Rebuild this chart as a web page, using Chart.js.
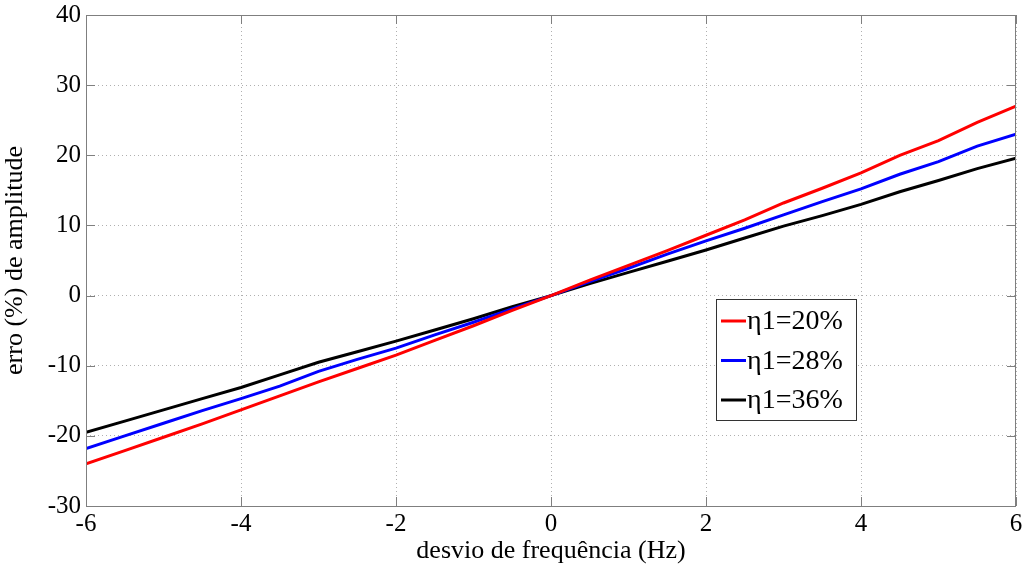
<!DOCTYPE html>
<html><head><meta charset="utf-8">
<script src="https://cdn.jsdelivr.net/npm/chart.js@4/dist/chart.umd.min.js"></script>
<style>html,body{margin:0;padding:0;background:#fff}#wrap{width:1026px;height:571px}</style>
</head><body><div id="wrap"><canvas id="c" width="1026" height="571"></canvas></div>
<script>
const xVals = [-6,-5.5,-5,-4.5,-4,-3.5,-3,-2.5,-2,-1.5,-1,-0.5,0,0.5,1,1.5,2,2.5,3,3.5,4,4.5,5,5.5,6];
const eta20 = [-24.0,-22.1,-20.2,-18.3,-16.3,-14.3,-12.3,-10.4,-8.5,-6.4,-4.3,-2.1,0,2.2,4.3,6.4,8.6,10.8,13.2,15.3,17.5,20.0,22.1,24.7,27.0];
const eta28 = [-21.8,-20.0,-18.2,-16.4,-14.7,-12.9,-10.8,-9.1,-7.5,-5.6,-3.8,-1.9,0,2.0,3.9,5.9,7.8,9.6,11.5,13.4,15.2,17.3,19.1,21.3,23.0];
const eta36 = [-19.5,-17.9,-16.3,-14.7,-13.1,-11.3,-9.5,-8.0,-6.5,-4.9,-3.3,-1.6,0,1.7,3.3,4.9,6.5,8.2,9.9,11.4,13.0,14.8,16.4,18.1,19.6];
const seriesLabels = ['η1=20%','η1=28%','η1=36%'];
const xTitle = 'desvio de frequência (Hz)';
const yTitle = 'erro (%) de amplitude';

const FONT = '"Liberation Serif","Times New Roman",serif';
const toPts = arr => arr.map((v,i)=>({x:xVals[i],y:v}));

const boxPlugin = {
  id:'box',
  afterDraw(chart){
    const {ctx, chartArea:a, scales} = chart;
    ctx.save();
    ctx.strokeStyle = '#7f7f7f'; ctx.lineWidth = 1;
    ctx.strokeRect(a.left+0.5, a.top+0.5, a.right-a.left-1, a.bottom-a.top);
    ctx.beginPath();
    scales.y.ticks.forEach(t=>{ const p=Math.round(scales.y.getPixelForValue(t.value))+0.5;
      ctx.moveTo(a.left,p); ctx.lineTo(a.left+9,p); ctx.moveTo(a.right,p); ctx.lineTo(a.right-9,p);});
    scales.x.ticks.forEach(t=>{ const p=Math.round(scales.x.getPixelForValue(t.value))+0.5;
      ctx.moveTo(p,a.bottom); ctx.lineTo(p,a.bottom-9); ctx.moveTo(p,a.top); ctx.lineTo(p,a.top+9);});
    ctx.stroke();
    const lx=716, ly=299, lw=140, lh=121;
    ctx.fillStyle='#fff'; ctx.fillRect(lx,ly,lw,lh);
    ctx.strokeStyle='#333'; ctx.strokeRect(lx+0.5,ly+0.5,lw,lh);
    ctx.font = '28px '+FONT; ctx.textBaseline='middle'; ctx.textAlign='left';
    chart.data.datasets.forEach((ds,i)=>{
      const y = 321 + i*39.5;
      ctx.strokeStyle=ds.borderColor; ctx.lineWidth=3;
      ctx.beginPath(); ctx.moveTo(721,y); ctx.lineTo(746,y); ctx.stroke();
      ctx.fillStyle='#000'; ctx.fillText(ds.label, 747, y+1);
    });
    ctx.restore();
  }
};

new Chart(document.getElementById('c'), {
  type:'line',
  data:{datasets:[
    {label:seriesLabels[0], data:toPts(eta20), borderColor:'#ff0000', borderWidth:3, pointRadius:0, tension:0},
    {label:seriesLabels[1], data:toPts(eta28), borderColor:'#0000ff', borderWidth:3, pointRadius:0, tension:0},
    {label:seriesLabels[2], data:toPts(eta36), borderColor:'#000000', borderWidth:3, pointRadius:0, tension:0}
  ]},
  options:{
    responsive:false, animation:false, devicePixelRatio:1,
    layout:{padding:{left:0,right:10,top:15,bottom:0}},
    plugins:{legend:{display:false}, tooltip:{enabled:false}},
    scales:{
      x:{type:'linear', min:-6, max:6,
        ticks:{stepSize:2, color:'#000', font:{family:FONT,size:25}, padding:3, maxRotation:0},
        grid:{color:'#b0b0b0', lineWidth:1, drawTicks:false},
        border:{display:false, dash:[1,3]},
        title:{display:true, text:xTitle, color:'#000', font:{family:FONT,size:26}, padding:{top:0,bottom:4}},
        afterFit(s){ s.height = 65; s.paddingLeft = 0; s.paddingRight = 0; }
      },
      y:{type:'linear', min:-30, max:40,
        ticks:{stepSize:10, color:'#000', font:{family:FONT,size:25}, padding:5},
        grid:{color:'#b0b0b0', lineWidth:1, drawTicks:false},
        border:{display:false, dash:[1,3]},
        title:{display:true, text:yTitle, color:'#000', font:{family:FONT,size:26}, padding:{top:0,bottom:0}},
        afterFit(s){ s.width = 86; s.paddingTop = 0; s.paddingBottom = 0; }
      }
    }
  },
  plugins:[boxPlugin]
});
</script></body></html>
